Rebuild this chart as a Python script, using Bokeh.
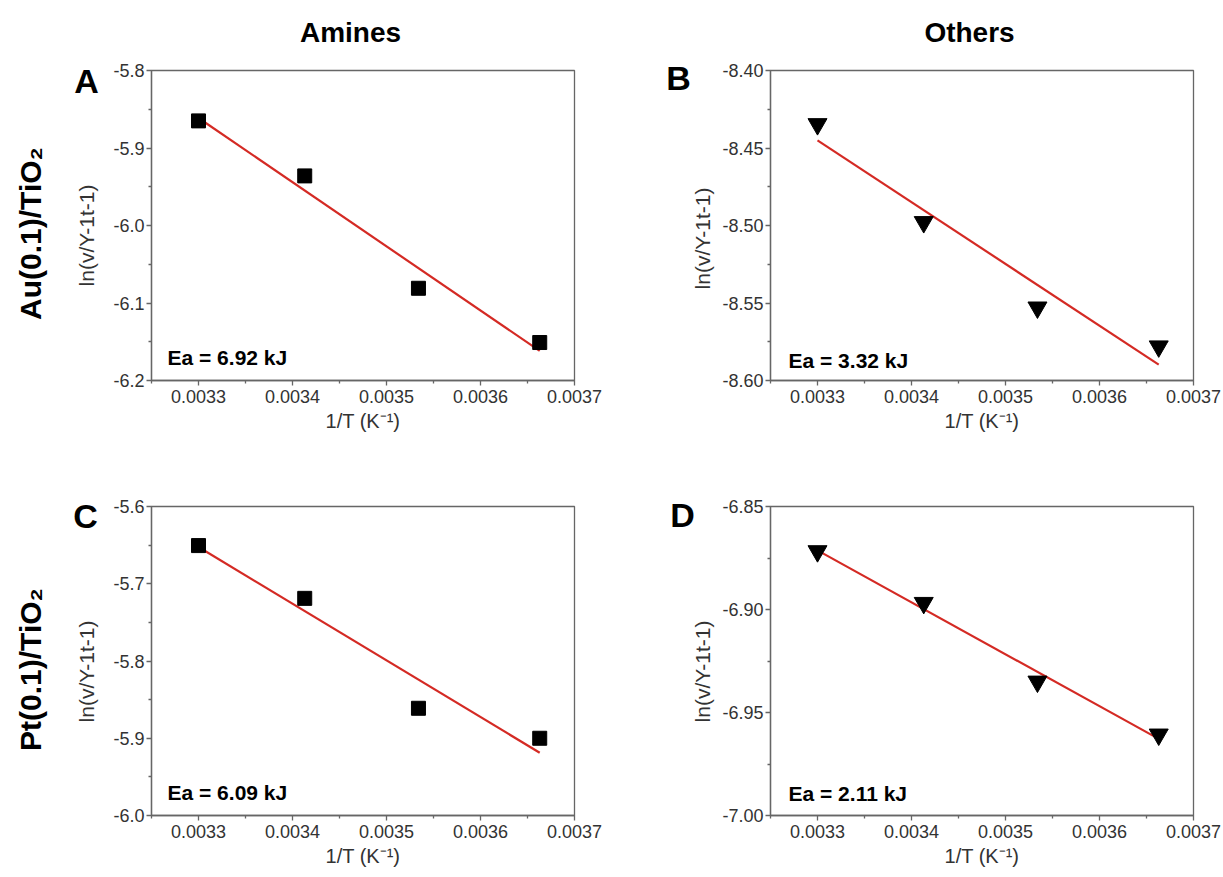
import numpy as np
from bokeh.plotting import figure
from bokeh.layouts import column, row
from bokeh.models import FixedTicker, PrintfTickFormatter, Label, Range1d
from bokeh.core.properties import value
from bokeh.embed import file_html
from bokeh.resources import INLINE

# ---------------- data ----------------
inv_T = [0.00330, 0.003413, 0.003534, 0.003663]

amines_au = [-5.865, -5.936, -6.081, -6.151]
others_au = [-8.4346, -8.4978, -8.5529, -8.578]
amines_pt = [-5.6506, -5.7189, -5.8612, -5.900]
others_pt = [-6.8717, -6.8968, -6.935, -6.9607]

ea_labels = ["Ea = 6.92 kJ", "Ea = 3.32 kJ", "Ea = 6.09 kJ", "Ea = 2.11 kJ"]
panel_letters = ["A", "B", "C", "D"]
col_titles = ["Amines", "Others"]
row_titles = ["Au(0.1)/TiO\u2082", "Pt(0.1)/TiO\u2082"]
y_title = "ln(v/Y-1t-1)"
x_title = "1/T (K\u207b\u00b9)"

x_major = [0.0033, 0.0034, 0.0035, 0.0036, 0.0037]
x_minor = [0.00325, 0.00335, 0.00345, 0.00355, 0.00365]
yA_major = [-6.2, -6.1, -6.0, -5.9, -5.8]
yA_minor = [-6.15, -6.05, -5.95, -5.85]
yB_major = [-8.60, -8.55, -8.50, -8.45, -8.40]
yB_minor = [-8.575, -8.525, -8.475, -8.425]
yC_major = [-6.0, -5.9, -5.8, -5.7, -5.6]
yC_minor = [-5.95, -5.85, -5.75, -5.65]
yD_major = [-7.00, -6.95, -6.90, -6.85]
yD_minor = [-6.975, -6.925, -6.875]

FONT = "Liberation Sans"
AX = "#666666"
TXT = "#333333"
RED = "#d42a24"

TOP_H = 55          # height of the strip with column titles
STRIP_L = 108       # left text strip width (left column)
STRIP_R = 105       # left text strip width (right column)


def text_strip(w, h, items):
    """A bare figure whose frame is its whole area; items are texts in pixel coords."""
    s = figure(width=w, height=h, x_range=Range1d(0, w), y_range=Range1d(0, h),
               min_border=0, min_border_left=0, min_border_right=0,
               min_border_top=0, min_border_bottom=0, title=None,
               frame_align=False,
               toolbar_location=None, output_backend="svg",
               x_axis_location=None, y_axis_location=None, align="start",
               background_fill_color="white", border_fill_color="white")
    s.grid.visible = False
    s.outline_line_color = None
    for (txt, gx, gy, ang, size, style, color) in items:
        s.text(x=[gx], y=[h - gy], text=[txt], angle=ang,
               text_font=value(FONT), text_font_size=size, text_font_style=style,
               text_color=color, text_align="center", text_baseline="middle")
    return s


def make_panel(y, marker, yr, ymaj, ymin, yfmt, fw, fh, bl, bt, br, bb, ea, ea_xy):
    x0, x1 = 0.00325, 0.0037
    y0, y1 = yr
    p = figure(width=bl + fw + br, height=bt + fh + bb, x_range=(x0, x1), y_range=(y0, y1),
               min_border_left=bl, min_border_top=bt, min_border_right=br,
               min_border_bottom=bb, title=None, toolbar_location=None,
               output_backend="svg", align="start",
               background_fill_color="white", border_fill_color="white")
    p.grid.visible = False
    p.outline_line_color = AX
    p.outline_line_width = 1.3

    for ax in (p.xaxis[0], p.yaxis[0]):
        ax.axis_line_color = AX
        ax.axis_line_width = 1.3
        ax.major_tick_line_color = AX
        ax.minor_tick_line_color = AX
        ax.major_tick_line_width = 1.3
        ax.minor_tick_line_width = 1.3
        ax.major_tick_in = 0
        ax.major_tick_out = 5
        ax.minor_tick_in = 0
        ax.minor_tick_out = 3
        ax.major_label_text_font = FONT
        ax.major_label_text_font_size = "18px"
        ax.major_label_text_color = TXT
        ax.axis_label_text_font = FONT
        ax.axis_label_text_font_size = "20px"
        ax.axis_label_text_font_style = "normal"
        ax.axis_label_text_color = TXT
        ax.major_label_standoff = 2

    p.xaxis.ticker = FixedTicker(ticks=x_major, minor_ticks=x_minor)
    p.xaxis.formatter = PrintfTickFormatter(format="%.4f")
    p.xaxis.axis_label = x_title
    p.xaxis.major_label_standoff = 4
    p.xaxis.axis_label_standoff = 4

    p.yaxis.ticker = FixedTicker(ticks=ymaj, minor_ticks=ymin)
    p.yaxis.formatter = PrintfTickFormatter(format=yfmt)

    # least-squares fit line of the data
    k, b = np.polyfit(inv_T, y, 1)
    xs = [inv_T[0], inv_T[-1]]
    p.line(xs, [k * xs[0] + b, k * xs[1] + b], line_color=RED, line_width=2.2)

    if marker == "square":
        p.scatter(inv_T, y, marker="square", size=14, fill_color="black", line_color="black")
    else:
        p.scatter(inv_T, y, marker="inverted_triangle", size=19,
                  fill_color="black", line_color="black")

    # Ea annotation: pixel offset from the frame's top-left corner
    ox, oy = ea_xy
    ex = x0 + ox / fw * (x1 - x0)
    ey = y1 - oy / fh * (y1 - y0)
    p.add_layout(Label(x=ex, y=ey, text=ea, text_font=FONT, text_font_size="21px",
                       text_font_style="bold", text_align="left", text_baseline="middle",
                       text_color="black"))
    return p


# ---- top strip with column titles ----
top = text_strip(1223, TOP_H, [
    (col_titles[0], 350, 32, 0, "28px", "bold", "black"),
    (col_titles[1], 969, 32, 0, "28px", "bold", "black"),
])

# ---- row 1 (height 383) ----
H1 = 438 - TOP_H
sA = text_strip(STRIP_L, H1, [
    (row_titles[0], 30, 233 - TOP_H, np.pi / 2, "30px", "bold", "black"),
    (panel_letters[0], 86, 80 - TOP_H, 0, "34px", "bold", "black"),
    (y_title, 86, 235 - TOP_H, np.pi / 2, "21px", "normal", TXT),
])
pA = make_panel(amines_au, "square", (-6.2, -5.8), yA_major, yA_minor, "%.1f",
                423, 310, 151 - STRIP_L, 70 - TOP_H, 37, 58, ea_labels[0], (16, 287))
sB = text_strip(STRIP_R, H1, [
    (panel_letters[1], 678 - 611, 77 - TOP_H, 0, "34px", "bold", "black"),
    (y_title, 702 - 611, 238 - TOP_H, np.pi / 2, "21px", "normal", TXT),
])
pB = make_panel(others_au, "tri", (-8.60, -8.40), yB_major, yB_minor, "%.2f",
                423, 310, 770 - 611 - STRIP_R, 70 - TOP_H, 30, 58, ea_labels[1], (18, 290))

# ---- row 2 (height 439) ----
H2 = 439
sC = text_strip(STRIP_L, H2, [
    (row_titles[1], 30, 669 - 438, np.pi / 2, "30px", "bold", "black"),
    (panel_letters[2], 85, 515 - 438, 0, "34px", "bold", "black"),
    (y_title, 86, 671 - 438, np.pi / 2, "21px", "normal", TXT),
])
pC = make_panel(amines_pt, "square", (-6.0, -5.6), yC_major, yC_minor, "%.1f",
                423, 309, 151 - STRIP_L, 68, 37, 62, ea_labels[2], (16, 286))
sD = text_strip(STRIP_R, H2, [
    (panel_letters[3], 682 - 611, 514 - 438, 0, "34px", "bold", "black"),
    (y_title, 702 - 611, 671 - 438, np.pi / 2, "21px", "normal", TXT),
])
pD = make_panel(others_pt, "tri", (-7.00, -6.85), yD_major, yD_minor, "%.2f",
                423, 309, 770 - 611 - STRIP_R, 68, 30, 62, ea_labels[3], (18, 287))

layout = column(top,
                row(sA, pA, sB, pB, spacing=0, align="start"),
                row(sC, pC, sD, pD, spacing=0, align="start"),
                spacing=0)

open("out.html", "w").write(file_html(layout, INLINE))
